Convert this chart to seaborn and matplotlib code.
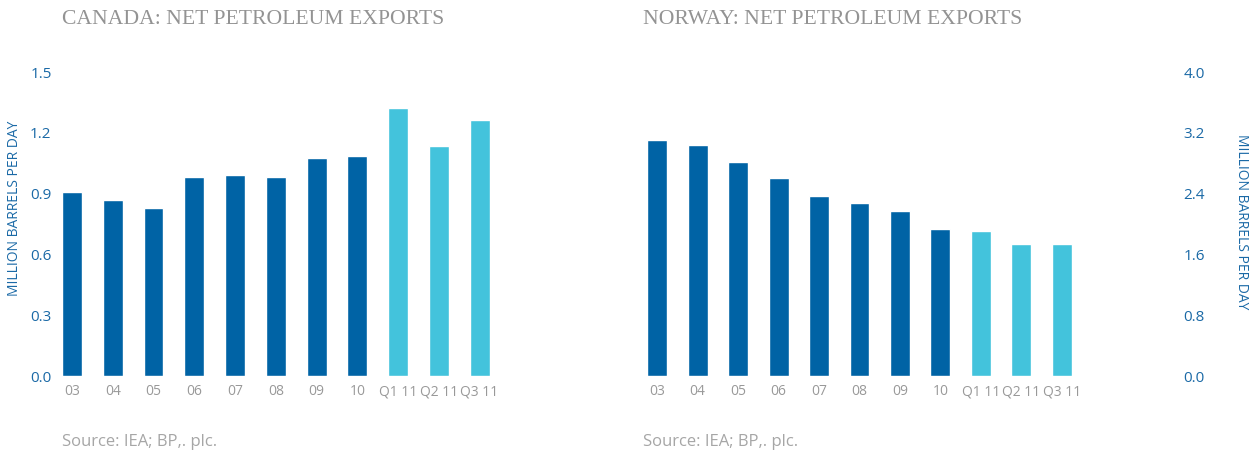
import matplotlib
matplotlib.use("Agg")
import matplotlib.pyplot as plt
import seaborn as sns
import pandas as pd

categories = ["03", "04", "05", "06", "07", "08", "09", "10", "Q1 11", "Q2 11", "Q3 11"]
canada_values = [0.91, 0.87, 0.83, 0.98, 0.99, 0.98, 1.075, 1.085, 1.32, 1.135, 1.265]
norway_values = [3.10, 3.04, 2.82, 2.61, 2.37, 2.28, 2.17, 1.94, 1.91, 1.74, 1.74]
canada_ticks = [0.0, 0.3, 0.6, 0.9, 1.2, 1.5]
norway_ticks = [0.0, 0.8, 1.6, 2.4, 3.2, 4.0]
canada_title = "CANADA: NET PETROLEUM EXPORTS"
norway_title = "NORWAY: NET PETROLEUM EXPORTS"
ylabel = "MILLION BARRELS PER DAY"
source = "Source: IEA; BP,. plc."

DARK = "#0063a5"
LIGHT = "#43c3dc"
BLUE_TXT = "#1a69a6"
GRAY = "#999999"
palette = [DARK] * 8 + [LIGHT] * 3

sns.set_theme(style="white")
plt.rcParams["font.family"] = ["Open Sans", "DejaVu Sans"]

W, H = 1260, 457
fig = plt.figure(figsize=(W / 100, H / 100), dpi=100)

def px_axes(left, right, top, bottom):
    return fig.add_axes([left / W, 1 - bottom / H, (right - left) / W, (bottom - top) / H])

ax1 = px_axes(51.6, 500, 72, 376)
ax2 = px_axes(637, 1082, 72, 376)

df1 = pd.DataFrame({"cat": categories, "val": canada_values})
df2 = pd.DataFrame({"cat": categories, "val": norway_values})

for ax, df, ticks in [(ax1, df1, canada_ticks), (ax2, df2, norway_ticks)]:
    sns.barplot(data=df, x="cat", y="val", hue="cat", palette=palette, legend=False,
                width=0.49, ax=ax, saturation=1, order=categories)
    ax.set_xlim(-0.5, len(categories) - 0.5)
    ax.set_ylim(ticks[0], ticks[-1])
    ax.set_yticks(ticks)
    ax.set_yticklabels(["{:.1f}".format(t) for t in ticks])
    ax.set_xlabel("")
    ax.set_ylabel("")
    for s in ax.spines.values():
        s.set_visible(False)
    ax.tick_params(axis="x", length=0, pad=6, labelcolor=GRAY, labelsize=10)
    ax.tick_params(axis="y", length=0, labelsize=11, labelcolor=BLUE_TXT)
    ax.grid(False)

ax1.tick_params(axis="y", pad=0)
ax2.yaxis.tick_right()
ax2.tick_params(axis="y", pad=73)

tkw = dict(family="Liberation Serif", fontsize=15.6, color="#939393",
           ha="left", va="center")
t1 = fig.text(62 / W, 1 - 20 / H, canada_title, **tkw)
t2 = fig.text(643 / W, 1 - 20 / H, norway_title, **tkw)
fig.canvas.draw()
r = fig.canvas.get_renderer()
w = t1.get_window_extent(r).width
fs = 15.6 * 381 / w
t1.set_fontsize(fs)
t2.set_fontsize(fs)

fig.text(15 / W, 1 - 208 / H, ylabel, rotation=90, fontsize=10, color=BLUE_TXT,
         ha="center", va="center")
fig.text(1241 / W, 1 - 222 / H, ylabel, rotation=270, fontsize=10, color=BLUE_TXT,
         ha="center", va="center")

fig.text(62 / W, 1 - 442 / H, source, fontsize=12, color="#a6a6a6", ha="left", va="center")
fig.text(643 / W, 1 - 442 / H, source, fontsize=12, color="#a6a6a6", ha="left", va="center")

fig.savefig("out.png", dpi=100)
